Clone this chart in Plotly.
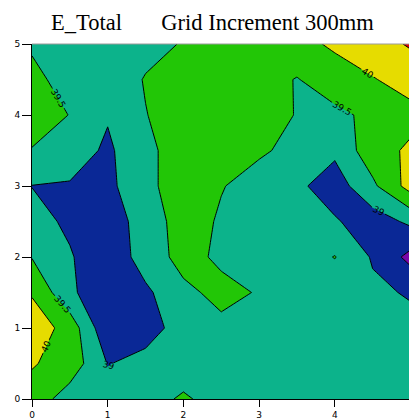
import plotly.graph_objects as go

# grid positions (m)
x_m = [0.0, 0.5, 1.0, 1.5, 2.0, 2.5, 3.0, 3.5, 4.0, 4.5, 5.0]
y_m = [0.0, 0.5, 1.0, 1.5, 2.0, 2.5, 3.0, 3.5, 4.0, 4.5, 5.0]

# E_Total values, one row per y position (x = 0 .. 5)
e_y00 = [39.80, 39.25, 39.20, 39.35, 39.55, 39.35, 39.30, 39.30, 39.30, 39.30, 39.20]
e_y05 = [40.04, 39.80, 38.98, 39.15, 39.30, 39.30, 39.30, 39.30, 39.30, 39.25, 39.20]
e_y10 = [40.30, 39.80, 38.60, 38.80, 39.20, 39.40, 39.40, 39.25, 39.20, 39.20, 39.15]
e_y15 = [39.95, 39.10, 38.60, 38.90, 39.40, 39.62, 39.47, 39.20, 39.15, 39.10, 38.95]
e_y20 = [39.48, 39.05, 38.60, 39.25, 39.65, 39.42, 39.30, 39.20, 39.52, 38.95, 38.35]
e_y25 = [39.20, 38.90, 38.70, 39.25, 39.70, 39.45, 39.30, 39.20, 39.05, 38.75, 39.10]
e_y30 = [38.99, 38.95, 38.85, 39.45, 39.60, 39.52, 39.35, 39.10, 38.75, 39.40, 40.20]
e_y35 = [39.48, 39.30, 38.90, 39.45, 39.60, 39.60, 39.55, 39.40, 39.10, 39.80, 40.08]
e_y40 = [39.70, 39.49, 39.05, 39.49, 39.65, 39.70, 39.60, 39.49, 39.35, 39.65, 39.85]
e_y45 = [39.60, 39.35, 39.30, 39.52, 39.60, 39.70, 39.75, 39.47, 39.85, 39.97, 40.20]
e_y50 = [39.45, 39.30, 39.30, 39.40, 39.52, 39.70, 39.80, 39.90, 40.05, 40.30, 40.55]

x_ticks = [0, 1, 2, 3, 4, 5]
y_ticks = [0, 1, 2, 3, 4, 5]

z = [e_y00, e_y05, e_y10, e_y15, e_y20, e_y25, e_y30, e_y35, e_y40, e_y45, e_y50]

P = "#7A08A8"   # < 38.5
B = "#0A2896"   # 38.5 - 39
T = "#0CB38B"   # 39 - 39.5
G = "#22C606"   # 39.5 - 40
Y = "#E6DC00"   # 40 - 40.5
R = "#E00000"   # > 40.5
cscale = [[0, P], [0.2, P], [0.2, B], [0.4, B], [0.4, T], [0.6, T],
          [0.6, G], [0.8, G], [0.8, Y], [0.95, Y], [0.95, R], [1, R]]

fig = go.Figure(go.Contour(
    x=x_m, y=y_m, z=z,
    colorscale=cscale, showscale=False,
    contours=dict(start=38.5, end=40.5, size=0.5, coloring="fill",
                  showlabels=True,
                  labelfont=dict(family="DejaVu Sans", size=9, color="black")),
    line=dict(color="black", width=1, smoothing=0),
    hoverinfo="skip",
))

sp = "&nbsp;" * 7
fig.update_layout(
    width=409, height=420,
    margin=dict(l=32, r=0, t=44, b=21, autoexpand=False),
    paper_bgcolor="white", plot_bgcolor="white",
    title=dict(text="E_Total" + sp + "Grid Increment 300mm",
               font=dict(family="Liberation Serif", size=22.5, color="black"),
               x=51 / 409, xanchor="left", xref="container",
               y=1 - 22 / 420, yanchor="middle", yref="container"),
    xaxis=dict(range=[0, 4.98], tickvals=x_ticks, ticks="outside", ticklen=7,
               tickcolor="black", showline=True, linecolor="black", linewidth=1,
               showgrid=False, zeroline=False, automargin=False,
               tickfont=dict(family="DejaVu Sans", size=9, color="black")),
    yaxis=dict(range=[0, 5], tickvals=y_ticks, ticks="outside", ticklen=9,
               tickcolor="black", showline=True, linecolor="black", linewidth=1,
               showgrid=False, zeroline=False, automargin=False,
               tickfont=dict(family="DejaVu Sans", size=9, color="black")),
    shapes=[dict(type="line", xref="paper", yref="paper", x0=0, x1=1, y0=1, y1=1,
                 line=dict(color="#9a9a9a", width=1))],
)

fig.write_html("out.html")
